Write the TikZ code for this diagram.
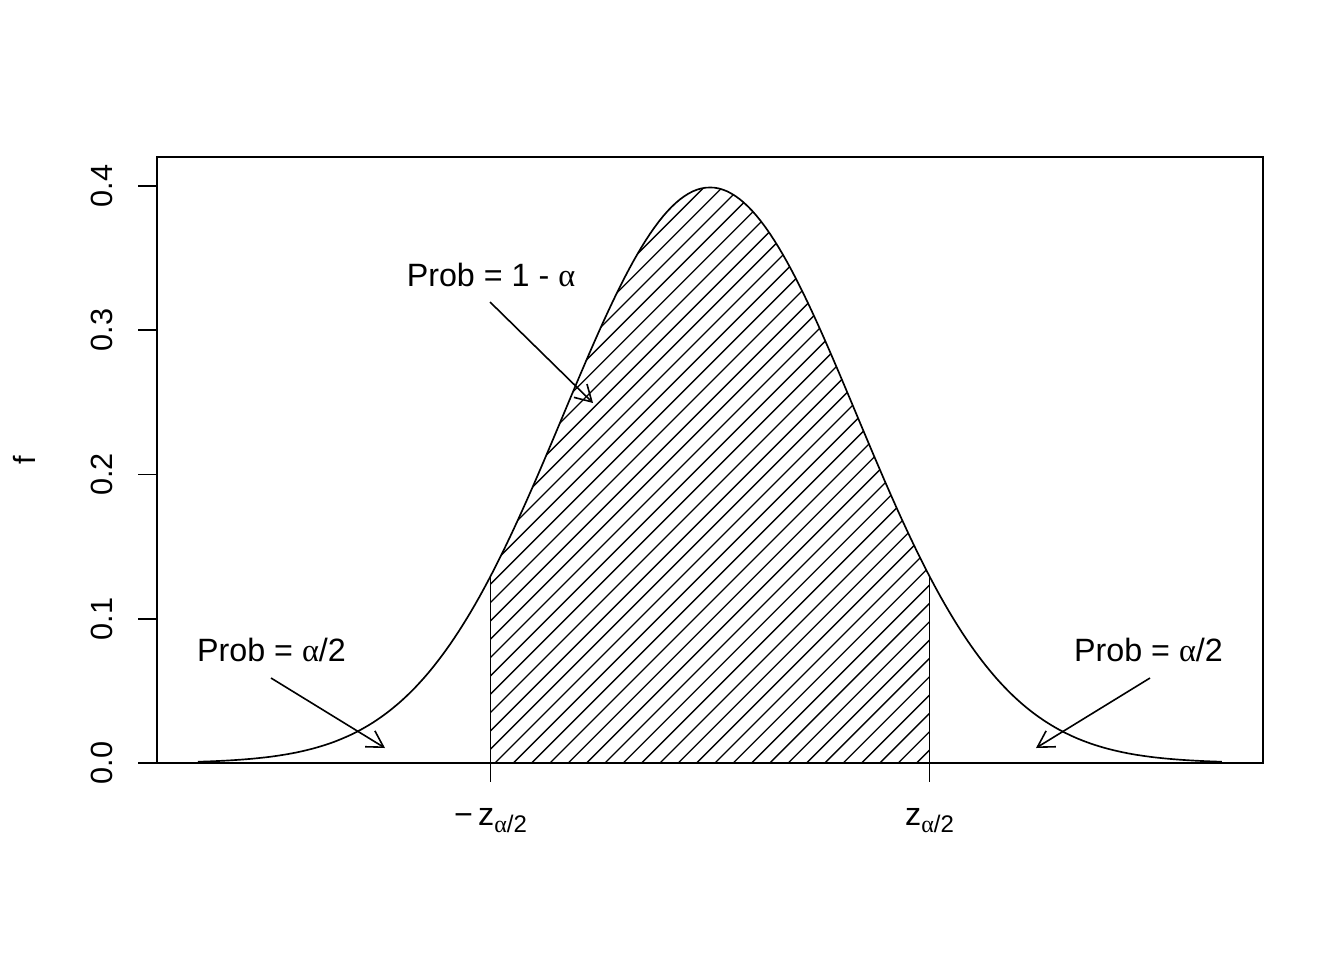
\documentclass[tikz,border=0pt]{standalone}
\usepackage{fontspec}
\setmainfont{Liberation Sans}
\newfontfamily\alf{Liberation Serif}
\usetikzlibrary{arrows.meta}
\newcommand{\zsub}{\raisebox{-0.22em}{\fontsize{18}{18}\selectfont{\alf α}/2}}
\begin{document}
\begin{tikzpicture}[x=0.75pt,y=-0.75pt,
  lbl/.style={font=\fontsize{24.2}{26}\selectfont, inner sep=0pt},
  ticklbl/.style={font=\fontsize{23}{25}\selectfont, inner sep=0pt},
  curve/.style={line width=1.25pt},
  frame/.style={line width=1.45pt},
  hatch/.style={line width=1.0pt},
  ptr/.style={line width=1.2pt,-{Straight Barb[length=12pt,width=14pt,line width=1.2pt]}}]
\fill[white] (0,0) rectangle (1344,960);
\useasboundingbox (0,0) rectangle (1344,960);
% hatched region
\begin{scope}
\clip plot[domain=-1.5:1.5,samples=120] ({710+146.3*\x},{763-1442.5*0.398942*exp(-\x*\x/2)}) -- (929.5,763) -- (490.5,763) -- cycle;
\foreach \k in {0,...,57}{
  \draw[hatch] ({671.4+18.33*\k-800},800) -- ({671.4+18.33*\k-150},150);
}
\end{scope}
% density curve
\draw[curve] plot[domain=-3.5:3.5,samples=241] ({710+146.3*\x},{763-1442.5*0.398942*exp(-\x*\x/2)});
% critical value lines
\coordinate (zl0) at (490.5,763);
\coordinate (zl1) at (490.5,{763-1442.5*0.398942*exp(-1.125)});
\coordinate (zr0) at (929.5,763);
\coordinate (zr1) at (929.5,{763-1442.5*0.398942*exp(-1.125)});
\draw[curve] (zl0) -- (zl1);
\draw[curve] (zr0) -- (zr1);
% frame
\draw[frame] (157,157) rectangle (1263,763);
% x ticks
\coordinate (xt1) at (490.5,782);
\coordinate (xt2) at (929.5,782);
\draw[frame] (zl0) -- (xt1);
\draw[frame] (zr0) -- (xt2);
\node[lbl,anchor=base] (xl1) at (490.5,825) {−\,z\zsub};
\node[lbl,anchor=base] (xl2) at (929.5,825) {z\zsub};
% y ticks
\foreach \v/\t in {0/0.0,1/0.1,2/0.2,3/0.3,4/0.4}{
  \coordinate (ya\v) at (157,{763-144.25*\v});
  \coordinate (yb\v) at (138,{763-144.25*\v});
  \draw[frame] (ya\v) -- (yb\v);
  \node[ticklbl,rotate=90,anchor=base] (yl\v) at (112.5,{763-144.25*\v}) {\t};
}
\node[ticklbl,rotate=90,anchor=base] (ylab) at (35,460) {f};
% annotations
\node[lbl,anchor=base] (pmid) at (491,286) {Prob = 1 - {\alf α}};
\node[lbl,anchor=base] (pleft) at (271.5,661) {Prob = {\alf α}/2};
\node[lbl,anchor=base] (pright) at (1148.5,661) {Prob = {\alf α}/2};
\coordinate (am0) at (490,302);
\coordinate (am1) at (593,403);
\coordinate (al0) at (271,678);
\coordinate (al1) at (385,748);
\coordinate (ar0) at (1150,678);
\coordinate (ar1) at (1036,748);
\draw[ptr] (am0) -- (am1);
\draw[ptr] (al0) -- (al1);
\draw[ptr] (ar0) -- (ar1);
\end{tikzpicture}
\end{document}
